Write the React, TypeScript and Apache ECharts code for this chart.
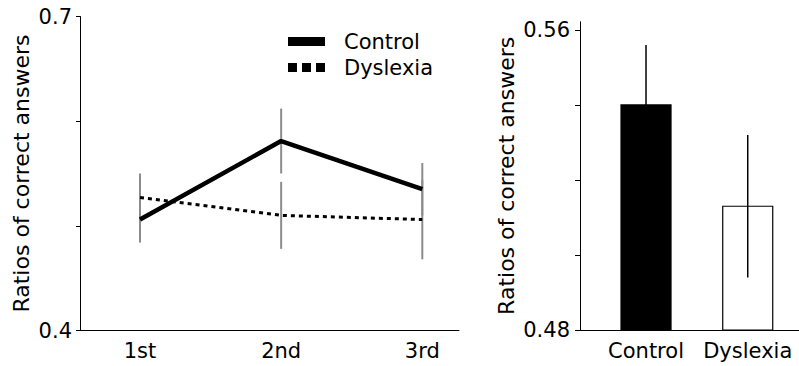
import React, { useEffect, useRef } from 'react';
import * as echarts from 'echarts';

const sessions = ['1st', '2nd', '3rd'];
const sessionPos = [1, 2, 3];
const controlMeans = [0.506, 0.581, 0.535];
const controlErr = [0.022, 0.031, 0.025];
const dyslexiaMeans = [0.527, 0.51, 0.506];
const dyslexiaErr = [0.023, 0.032, 0.038];

const groups = ['Control', 'Dyslexia'];
const groupPos = [1, 2];
const groupMeans = [0.54, 0.513];
const groupErr = [0.016, 0.019];

const leftYTicks = [0.4, 0.5, 0.6, 0.7];
const leftYLabels = [0.4, 0.7];
const rightYTicks = [0.48, 0.5, 0.52, 0.54, 0.56];
const rightYLabels = [0.48, 0.56];

const FONT = 'DejaVu Sans';
const TITLE = 'Ratios of correct answers';
const FS = 21;

export default function App() {
  const ref = useRef<HTMLDivElement>(null);
  useEffect(() => {
    const chart = echarts.init(ref.current!, null, { renderer: 'svg' });

    const controlLine = sessionPos.map((x, i) => [x, controlMeans[i]]);
    const dysLine = sessionPos.map((x, i) => [x, dyslexiaMeans[i]]);
    const controlErrData = sessionPos.map((x, i) => [x, controlMeans[i], controlErr[i]]);
    const dysErrData = sessionPos.map((x, i) => [x, dyslexiaMeans[i], dyslexiaErr[i]]);
    const barData = groupPos.map((x, i) => [x, groupMeans[i], groupErr[i]]);

    const errRender = (color: string, width: number) => (params: any, api: any) => {
      const x = api.value(0);
      const v = api.value(1);
      const e = api.value(2);
      const a = api.coord([x, v + e]);
      const b = api.coord([x, v - e]);
      return {
        type: 'line',
        shape: { x1: a[0], y1: a[1], x2: b[0], y2: b[1] },
        style: { stroke: color, lineWidth: width },
      };
    };

    const axisLabelBase = { fontSize: FS, color: '#000', fontFamily: FONT };
    const axisLineBase = { show: true, onZero: false, lineStyle: { color: '#000', width: 1 } };

    const option: any = {
      animation: false,
      textStyle: { fontFamily: FONT },
      grid: [
        { left: 80, top: 16.5, width: 379, height: 314, containLabel: false },
        { left: 580, top: 21.7, width: 219, height: 308.3, containLabel: false },
      ],
      legend: {
        left: 288,
        top: 31,
        orient: 'vertical',
        itemWidth: 37,
        itemHeight: 9,
        itemGap: 5,
        padding: 0,
        selectedMode: false,
        textStyle: { fontSize: FS, color: '#000', fontFamily: FONT, padding: [0, 0, 0, 14] },
        data: [
          { name: 'Control', icon: 'rect' },
          { name: 'Dyslexia', icon: 'path://M0 0h8v8h-8zM12.5 0h8v8h-8zM25 0h8v8h-8z' },
        ],
      },
      xAxis: [
        {
          type: 'value',
          gridIndex: 0,
          min: 0.575,
          max: 3.26,
          axisLine: axisLineBase,
          axisTick: { show: false },
          splitLine: { show: false },
          axisLabel: {
            ...axisLabelBase,
            margin: 10,
            customValues: sessionPos,
            formatter: (v: number) => sessions[sessionPos.indexOf(Math.round(v))] ?? '',
          },
        },
        {
          type: 'value',
          gridIndex: 1,
          min: 0.351,
          max: 2.504,
          axisLine: axisLineBase,
          axisTick: { show: false },
          splitLine: { show: false },
          axisLabel: {
            ...axisLabelBase,
            margin: 10,
            customValues: groupPos,
            formatter: (v: number) => groups[groupPos.indexOf(Math.round(v))] ?? '',
          },
        },
      ],
      yAxis: [
        {
          type: 'value',
          gridIndex: 0,
          min: 0.4,
          max: 0.7,
          axisLine: axisLineBase,
          axisTick: { show: true, length: 4, customValues: leftYTicks, lineStyle: { color: '#000' } },
          splitLine: { show: false },
          axisLabel: {
            ...axisLabelBase,
            margin: 8,
            customValues: leftYLabels,
            formatter: (v: number) => v.toFixed(1),
          },
          name: TITLE,
          nameLocation: 'middle',
          nameRotate: 90,
          nameGap: 48,
          nameTextStyle: { fontSize: 22, color: '#000', fontFamily: FONT },
        },
        {
          type: 'value',
          gridIndex: 1,
          min: 0.48,
          max: 0.5622,
          axisLine: axisLineBase,
          axisTick: { show: true, length: 5, customValues: rightYTicks, lineStyle: { color: '#000' } },
          splitLine: { show: false },
          axisLabel: {
            ...axisLabelBase,
            margin: 10,
            customValues: rightYLabels,
            formatter: (v: number) => v.toFixed(2),
          },
          name: TITLE,
          nameLocation: 'middle',
          nameRotate: 90,
          nameGap: 63,
          nameTextStyle: { fontSize: 22, color: '#000', fontFamily: FONT },
        },
      ],
      series: [
        {
          type: 'custom',
          name: 'ControlErr',
          xAxisIndex: 0,
          yAxisIndex: 0,
          data: controlErrData,
          renderItem: errRender('#8c8c8c', 2),
          encode: { x: 0, y: 1 },
          clip: false,
          z: 1,
        },
        {
          type: 'custom',
          name: 'DyslexiaErr',
          xAxisIndex: 0,
          yAxisIndex: 0,
          data: dysErrData,
          renderItem: errRender('#8c8c8c', 2),
          encode: { x: 0, y: 1 },
          clip: false,
          z: 1,
        },
        {
          type: 'line',
          name: 'Control',
          xAxisIndex: 0,
          yAxisIndex: 0,
          data: controlLine,
          symbol: 'none',
          color: '#000',
          lineStyle: { color: '#000', width: 4.5 },
          z: 3,
        },
        {
          type: 'line',
          name: 'Dyslexia',
          xAxisIndex: 0,
          yAxisIndex: 0,
          data: dysLine,
          symbol: 'none',
          color: '#000',
          lineStyle: { color: '#000', width: 3, type: [4, 4] },
          z: 3,
        },
        {
          type: 'custom',
          name: 'Bars',
          xAxisIndex: 1,
          yAxisIndex: 1,
          data: barData,
          encode: { x: 0, y: 1 },
          clip: false,
          z: 2,
          renderItem: (params: any, api: any) => {
            const x = api.value(0);
            const v = api.value(1);
            const e = api.value(2);
            const top = api.coord([x, v]);
            const base = api.coord([x, 0.48]);
            const hi = api.coord([x, v + e]);
            const lo = api.coord([x, v - e]);
            const filled = params.dataIndex === 0;
            return {
              type: 'group',
              children: [
                {
                  type: 'rect',
                  shape: { x: top[0] - 25, y: top[1], width: 50, height: base[1] - top[1] },
                  style: { fill: filled ? '#000' : '#fff', stroke: '#000', lineWidth: 1.2 },
                },
                {
                  type: 'line',
                  shape: { x1: hi[0], y1: hi[1], x2: lo[0], y2: lo[1] },
                  style: { stroke: '#000', lineWidth: 1.5 },
                },
              ],
            };
          },
        },
      ],
    };

    chart.setOption(option);
    return () => chart.dispose();
  }, []);

  return (
    <div
      ref={ref}
      style={{ position: 'absolute', left: 0, top: 0, width: 799, height: 366, background: '#fff' }}
    />
  );
}
